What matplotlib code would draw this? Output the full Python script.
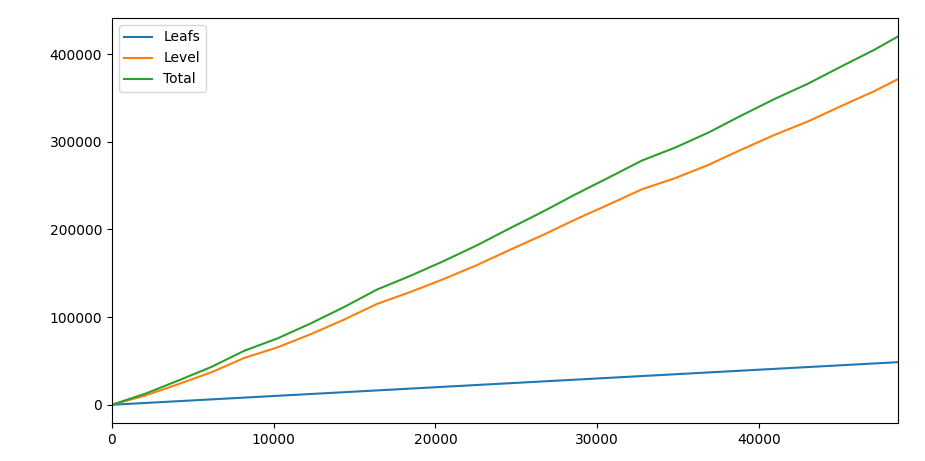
import matplotlib
matplotlib.use("Agg")
import matplotlib.pyplot as plt

nodes = [0, 2048, 4096, 6144, 8192, 10240, 12288, 14336, 16384, 18432, 20480,
         22528, 24576, 26624, 28672, 30720, 32768, 34816, 36864, 38912, 40960,
         43008, 45056, 47104, 48600]
leafs = [0, 2048, 4096, 6144, 8192, 10240, 12288, 14336, 16384, 18432, 20480,
         22528, 24576, 26624, 28672, 30720, 32768, 34816, 36864, 38912, 40960,
         43008, 45056, 47104, 48600]
level = [0, 10500, 23500, 37000, 53500, 65500, 80500, 97000, 115000, 128500, 143200,
         159000, 176500, 193500, 211500, 228500, 245800, 258500, 273500, 291000, 307800,
         323000, 340500, 357500, 371500]
total = [0, 12548, 27596, 43144, 61692, 75740, 92788, 111336, 131384, 146932, 163680,
         181528, 201076, 220124, 240172, 259220, 278568, 293316, 310364, 329912, 348760,
         366008, 385556, 404604, 420100]

fig = plt.figure(figsize=(9.25, 4.61), dpi=100)
ax = fig.add_axes([0.121, 0.082, 0.85, 0.879])
ax.plot(nodes, leafs, label="Leafs")
ax.plot(nodes, level, label="Level")
ax.plot(nodes, total, label="Total")
ax.set_xlim(0, nodes[-1])
ax.legend(loc="upper left")
fig.savefig("out.png", dpi=100)
